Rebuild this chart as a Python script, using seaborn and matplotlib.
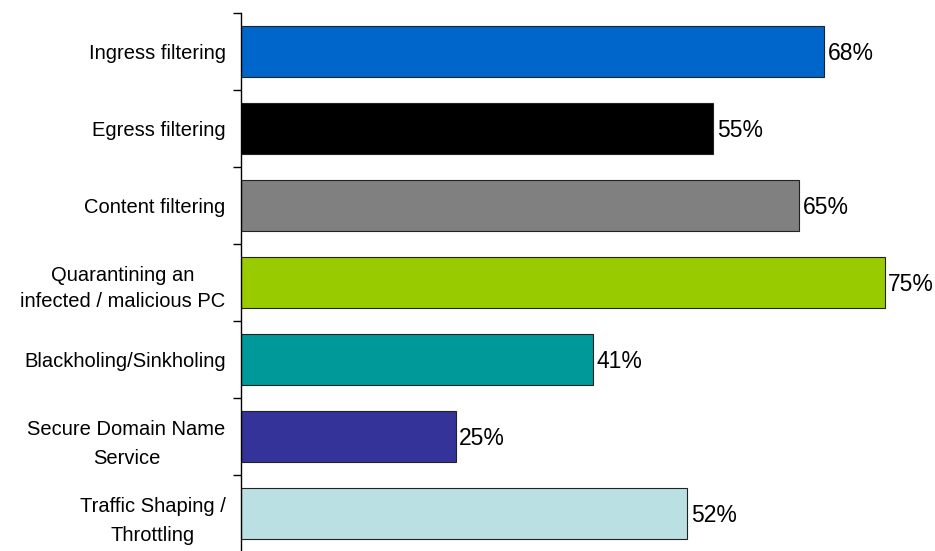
import matplotlib
matplotlib.use("Agg")
import matplotlib.pyplot as plt
import seaborn as sns
import pandas as pd
import numpy as np

categories = ["Ingress filtering", "Egress filtering", "Content filtering",
              "Quarantining an\ninfected / malicious PC", "Blackholing/Sinkholing",
              "Secure Domain Name\nService", "Traffic Shaping /\nThrottling"]
values = [68, 55, 65, 75, 41, 25, 52]
colors = ["#0066CC", "#000000", "#808080", "#99CC00", "#009999", "#333399", "#BBE0E3"]

sns.set_style("white")
plt.rcParams['font.family'] = ['Liberation Sans', 'DejaVu Sans']

df = pd.DataFrame({"cat": categories, "val": values})

fig = plt.figure(figsize=(9.35, 5.51), dpi=100)
ax = fig.add_axes([241/935, -1/551, 694/935, 539/551])
sns.barplot(data=df, x="val", y="cat", hue="cat", palette=colors, order=categories,
            hue_order=categories, dodge=False, legend=False, width=0.675,
            saturation=1, edgecolor="#222222", linewidth=0.8, ax=ax)

ax.set_xlim(0, 694/8.58)
ax.set_ylim(len(categories) - 0.5, -0.5)
for i, v in enumerate(values):
    ax.text(v + 0.45, i + 0.03, f"{v}%", va="center", ha="left", fontsize=16.5, color="black")

ax.set_xlabel("")
ax.set_ylabel("")
ax.set_xticks([])
for s in ["top", "right", "bottom"]:
    ax.spines[s].set_visible(False)
ax.spines["left"].set_color("black")
ax.spines["left"].set_linewidth(1.0)

ax.set_yticks(range(len(categories)))
ax.set_yticklabels(categories, fontsize=14.5, ha="right", multialignment="center",
                   color="black", linespacing=1.7)
for lab in ax.get_yticklabels():
    if lab.get_text().startswith("Quarantining"):
        lab.set_linespacing(1.48)
ax.tick_params(axis="y", which="major", length=0, pad=11)
ax.set_yticks(np.arange(-0.5, len(categories)), minor=True)
ax.tick_params(axis="y", which="minor", length=6, width=1, color="black", direction="out", left=True)

fig.savefig("out.png", dpi=100, facecolor="white")
